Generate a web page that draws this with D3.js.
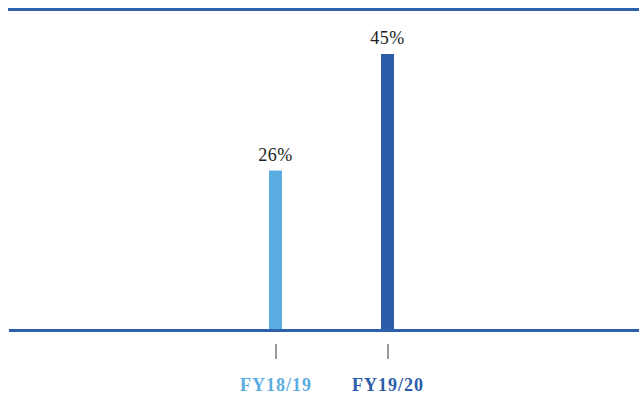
<!DOCTYPE html>
<html>
<head>
<meta charset="utf-8">
<script src="https://cdn.jsdelivr.net/npm/d3@7"></script>
<style>
  html, body { margin: 0; padding: 0; background: #fff; }
  svg { display: block; }
</style>
</head>
<body>
<svg id="chart" width="639" height="394"></svg>
<script>
// Share of respondents by financial year
const categories = ["FY18/19", "FY19/20"];
const values = [26, 45];
const valueLabels = ["26%", "45%"];
const barColors = ["#5aade0", "#2a5ca9"];
const serif = "'Times New Roman', 'Liberation Serif', Tinos, serif";

const svg = d3.select("#chart");
const W = 639;
const baseY = 330;
const lineColor = "#2e61ad";

const x = d3.scalePoint().domain(categories).range([275.5, 387.5]);
const y = d3.scaleLinear().domain([0, 45]).range([baseY, 54]);
const barW = 13;

// top rule
svg.append("rect").attr("x", 8).attr("y", 8).attr("width", W - 8).attr("height", 3)
  .attr("fill", lineColor);

// bars
svg.selectAll("rect.bar").data(values).join("rect")
  .attr("class", "bar")
  .attr("x", (d, i) => x(categories[i]) - barW / 2)
  .attr("y", d => y(d))
  .attr("width", barW)
  .attr("height", d => y(0) - y(d))
  .attr("fill", (d, i) => barColors[i]);

// value labels
svg.selectAll("text.val").data(values).join("text")
  .attr("class", "val")
  .attr("x", (d, i) => x(categories[i]))
  .attr("y", d => y(d) - 10)
  .attr("text-anchor", "middle")
  .style("font-family", serif)
  .style("font-size", "18px")
  .style("letter-spacing", "0.5px")
  .attr("fill", "#222")
  .text((d, i) => valueLabels[i]);

// baseline
svg.append("rect").attr("x", 9).attr("y", baseY - 1).attr("width", W - 9).attr("height", 3)
  .attr("fill", lineColor);

// category axis
const axis = d3.axisBottom(x).tickSize(15).tickPadding(19);
const g = svg.append("g").attr("transform", "translate(0,344)").call(axis);
g.attr("font-family", null).attr("font-size", null);
g.select(".domain").remove();
g.selectAll(".tick line").attr("stroke", "#555").attr("stroke-width", 1.2);
g.selectAll(".tick text")
  .style("font-family", serif)
  .style("font-size", "18px")
  .style("font-weight", "bold")
  .style("letter-spacing", "1px")
  .attr("fill", (d, i) => barColors[i]);
</script>
</body>
</html>
